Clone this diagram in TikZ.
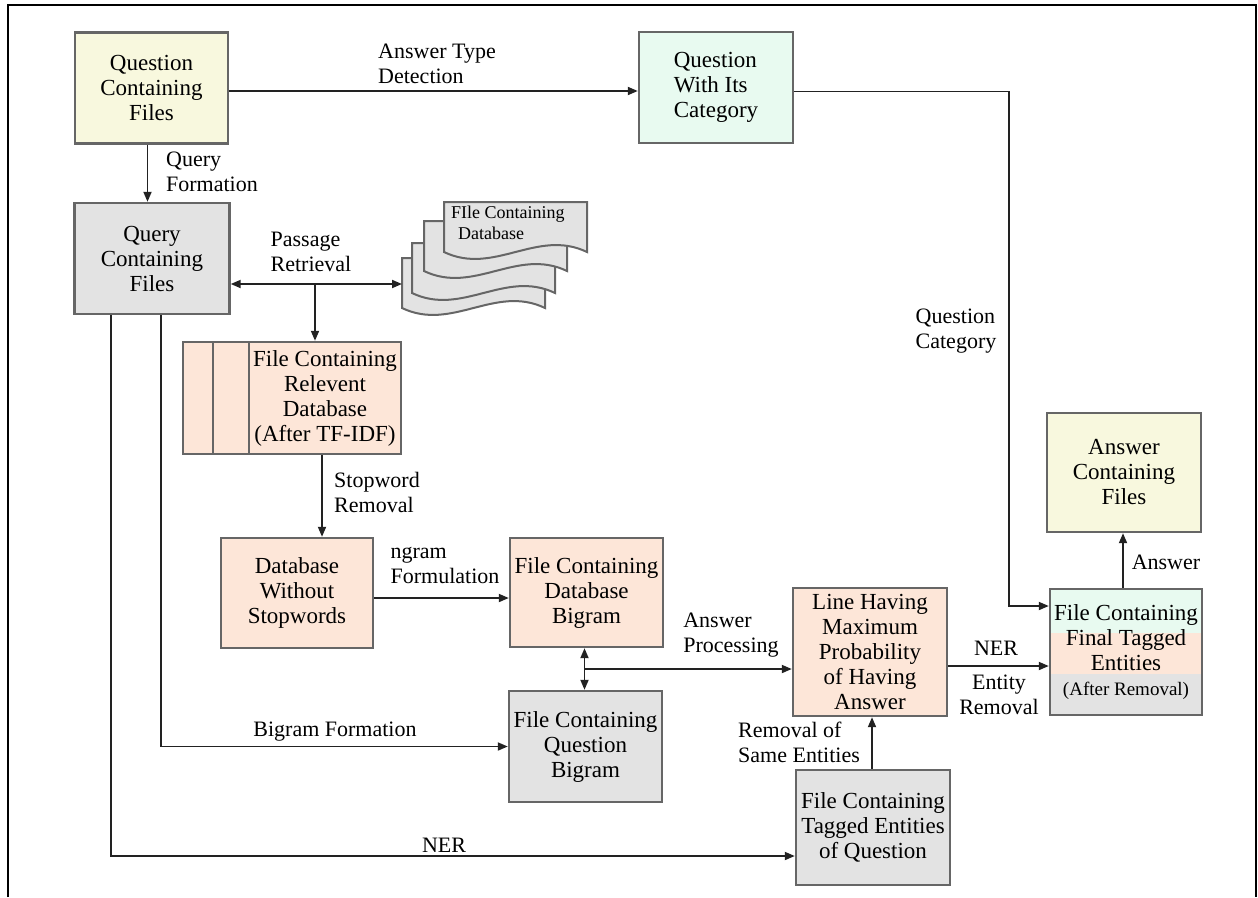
\documentclass[tikz,border=0pt]{standalone}
\usepackage{fontspec}
\setmainfont{Liberation Serif}
\usetikzlibrary{arrows.meta}
\definecolor{cyel}{HTML}{F8F8DE}
\definecolor{cgrn}{HTML}{E8FAF0}
\definecolor{cgry}{HTML}{E3E3E3}
\definecolor{csal}{HTML}{FDE6D8}
\definecolor{cbrd}{HTML}{666666}
\definecolor{cln}{HTML}{222222}
\begin{document}
\begin{tikzpicture}[x=1pt,y=-1pt,
  box/.style={draw=cbrd, line width=2.4pt, inner sep=0pt, align=center,
    font=\fontsize{23}{25}\selectfont, minimum width=153pt, minimum height=111pt},
  lbl/.style={font=\fontsize{22}{25}\selectfont, inner sep=0pt, align=left},
  conn/.style={draw=cln, line width=1.8pt},
  arr/.style={conn, -{Triangle[length=10pt,width=8pt]}},
  darr/.style={conn, {Triangle[length=10pt,width=8pt]}-{Triangle[length=10pt,width=8pt]}},
  docst/.style={fill=cgry, draw=cbrd, line width=2pt},
  pagest/.style={fill=csal, draw=cbrd, line width=2.4pt}]
\useasboundingbox (0,0) rectangle (1258,897);
\draw[line width=2pt, black] (8,897) -- (8,5) -- (1256,5) -- (1256,897);

% boxes
\node[box, fill=cyel] (qcf) at (151.5,88) {Question\\Containing\\Files};
\node[box, fill=cgrn, minimum width=154pt, align=left] (qwc) at (716,87.5) {Question\\With Its\\Category};
\node[box, fill=cgry, minimum width=155pt] (qry) at (152,258.5) {Query\\Containing\\Files};

% relevant database (multi page)
\draw[pagest] (183,342) rectangle (335,454);
\draw[pagest] (213,342) rectangle (365,454);
\node[box, fill=csal, minimum width=152pt, minimum height=112pt] (rel) at (325,398) {File Containing\\Relevent\\Database\\(After TF-IDF)};

\node[box, fill=csal, minimum width=152pt, minimum height=110pt] (dbws) at (297,593) {Database\\Without\\Stopwords};
\node[box, fill=csal, minimum height=109pt] (dbbig) at (586.5,592.5) {File Containing\\Database\\Bigram};
\node[box, fill=cgry] (qbig) at (585.5,746.5) {File Containing\\Question\\Bigram};
\node[box, fill=csal, minimum width=154pt, minimum height=128pt] (line) at (870,652) {Line Having\\Maximum\\Probability\\of Having\\Answer};
\node[box, fill=cgry, minimum width=154pt, minimum height=115pt] (tag) at (873,827.5) {File Containing\\Tagged Entities\\of Question};
\node[box, fill=cyel, minimum width=154pt, minimum height=119pt] (ans) at (1124,472.5) {Answer\\Containing\\Files};

% final tagged entities (three bands)
\fill[cgrn] (1050,589) rectangle (1202,633);
\fill[csal] (1050,633) rectangle (1202,674);
\fill[cgry] (1050,674) rectangle (1202,715);
\node[box, minimum width=152pt, minimum height=126pt] (final) at (1126,652) {File Containing\\Final Tagged\\Entities\\{\fontsize{19}{24}\selectfont (After Removal)}};

% document stack
\foreach \L/\T in {402/258, 412/243, 424/221, 444/202}{
  \filldraw[docst] (\L,\T+50) -- (\L,\T) -- (\L+143,\T) -- (\L+143,\T+50)
    .. controls (\L+93,\T+26) and (\L+50,\T+74) .. (\L,\T+50) -- cycle;
}
\node[lbl, font=\fontsize{18}{21}\selectfont, anchor=north west] (dbtext) at (451,206) {FIle Containing\\\hspace*{7pt}Database};
\coordinate (stack) at (402,284);

% connectors
\draw[arr] ([yshift=-3pt]qcf.east) -- ([yshift=-3pt]qcf.east -| qwc.west);
\draw[arr] ([xshift=-4pt]qcf.south) -- ([xshift=-4pt]qcf.south |- qry.north);
\coordinate (qcx) at (1009,400);
\draw[arr] ([yshift=-4pt]qwc.east) -| (qcx) |- ([yshift=46pt]final.west);
\draw[darr] ([yshift=-25.5pt]qry.east) -- (stack);
\coordinate (br) at (315,284);
\draw[arr] (br) -- (br |- rel.north);
\draw[arr] ([xshift=-3pt]rel.south) -- ([xshift=-3pt]rel.south |- dbws.north);
\draw[arr] ([yshift=-5pt]dbws.east) -- ([yshift=-5pt]dbws.east -| dbbig.west);
\draw[darr] ([xshift=-2pt]dbbig.south) -- ([xshift=-2pt]dbbig.south |- qbig.north);
\coordinate (ap) at (584,669);
\draw[arr] (ap) -- (ap -| line.west);
\draw[arr] ([yshift=-14pt]line.east) -- ([yshift=-14pt]line.east -| final.west);
\draw[arr] ([xshift=-1pt]tag.north) -- ([xshift=-1pt]tag.north |- line.south);
\draw[arr] ([xshift=-3pt]final.north) -- ([xshift=-3pt]final.north |- ans.south);
\draw[arr] ([xshift=-41pt]qry.south) |- ([yshift=-28.5pt]tag.west);
\draw[arr] ([xshift=9pt]qry.south) |- (qbig.west);

% labels
\node[lbl] (l1) at (437,64) {Answer Type\\Detection};
\node[lbl] (l2) at (212,172) {Query\\Formation};
\node[lbl] (l3) at (311,252) {Passage\\Retrieval};
\node[lbl] (l4) at (956,331) {Question\\Category};
\node[lbl] (l5) at (377,492) {Stopword\\Removal};
\node[lbl] (l6) at (445,565) {ngram\\Formulation};
\node[lbl] (l7) at (731,635) {Answer\\Processing};
\node[lbl] (l8) at (996,648) {NER};
\node[lbl, align=center] (l9) at (999,695) {Entity\\Removal};
\node[lbl] (l10) at (799,742) {Removal of\\Same Entities};
\node[lbl] (l11) at (335,732) {Bigram Formation};
\node[lbl] (l12) at (444,845) {NER};
\node[lbl] (l13) at (1166,562) {Answer};
\end{tikzpicture}
\end{document}
